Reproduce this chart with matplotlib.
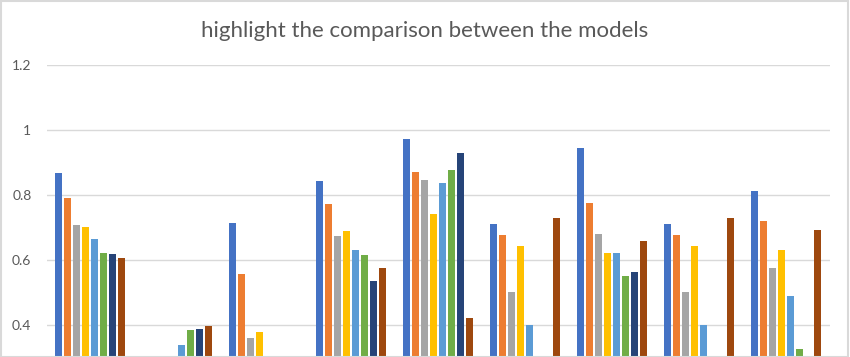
import numpy as np
import matplotlib
matplotlib.use('Agg')
import matplotlib.pyplot as plt
from matplotlib.patches import Rectangle

# Datos (los valores < 0.30 quedan fuera del recorte)
categorias = ['G1', 'G2', 'G3', 'G4', 'G5', 'G6', 'G7', 'G8', 'G9']
serie_1 = [0.868, 0.25, 0.713, 0.842, 0.971, 0.711, 0.944, 0.711, 0.812]
serie_2 = [0.792, 0.25, 0.557, 0.771, 0.871, 0.676, 0.774, 0.676, 0.721]
serie_3 = [0.708, 0.25, 0.361, 0.673, 0.845, 0.501, 0.681, 0.501, 0.576]
serie_4 = [0.701, 0.305, 0.378, 0.690, 0.742, 0.643, 0.621, 0.643, 0.630]
serie_5 = [0.666, 0.338, 0.25, 0.630, 0.838, 0.401, 0.621, 0.401, 0.488]
serie_6 = [0.622, 0.384, 0.25, 0.616, 0.878, 0.25, 0.552, 0.25, 0.326]
serie_7 = [0.617, 0.387, 0.25, 0.536, 0.928, 0.25, 0.562, 0.25, 0.25]
serie_8 = [0.607, 0.397, 0.25, 0.576, 0.422, 0.729, 0.658, 0.729, 0.691]

series = [serie_1, serie_2, serie_3, serie_4, serie_5, serie_6, serie_7, serie_8]
colores = ['#4472C4', '#ED7D31', '#A5A5A5', '#FFC000',
           '#5B9BD5', '#70AD47', '#264478', '#9E480E']
yticks = [0.4, 0.6, 0.8, 1.0, 1.2]
ytick_labels = ['0.4', '0.6', '0.8', '1', '1.2']

W, H = 850, 357
fig = plt.figure(figsize=(W / 100, H / 100), dpi=100)
fig.patch.set_facecolor('white')

# area del grafico (coordenadas en pixeles del original)
left, right, top = 46.7, 829.5, 65
ax = fig.add_axes([left / W, 0, (right - left) / W, 1 - top / H])

x = np.arange(len(categorias))
paso = 9.1 / 87.1     # separacion entre barras dentro del grupo
ancho = 7.0 / 87.1
for i, (vals, c) in enumerate(zip(series, colores)):
    offs = (i - 3.5) * paso
    ax.bar(x + offs, vals, width=ancho, color=c, zorder=3)

ax.set_xlim(-0.5, len(categorias) - 0.5)
# el original esta recortado por abajo (~0.30)
ax.set_ylim(1.2 - (H - top) / 325.0, 1.2)
ax.set_yticks(yticks)
ax.set_yticklabels(ytick_labels)
ax.set_xticks([])
ax.grid(axis='y', color='#D9D9D9', linewidth=1.0, zorder=0)
for s in ax.spines.values():
    s.set_visible(False)
ax.tick_params(axis='y', length=0, pad=11, labelsize=10, labelcolor='#595959')
for lbl in ax.get_yticklabels():
    lbl.set_fontfamily('Lato')

fig.text(424.5 / W, 1 - 31 / H, 'highlight the comparison between the models',
         ha='center', va='center', fontsize=16, color='#595959', family='Lato')

# borde del grafico
fig.patches.append(Rectangle((0.5 / W, 0), (W - 2.5) / W, 1 - 1 / H,
                             transform=fig.transFigure, fill=False,
                             edgecolor='#D9D9D9', linewidth=1.5))

plt.savefig('out.png', dpi=100)
